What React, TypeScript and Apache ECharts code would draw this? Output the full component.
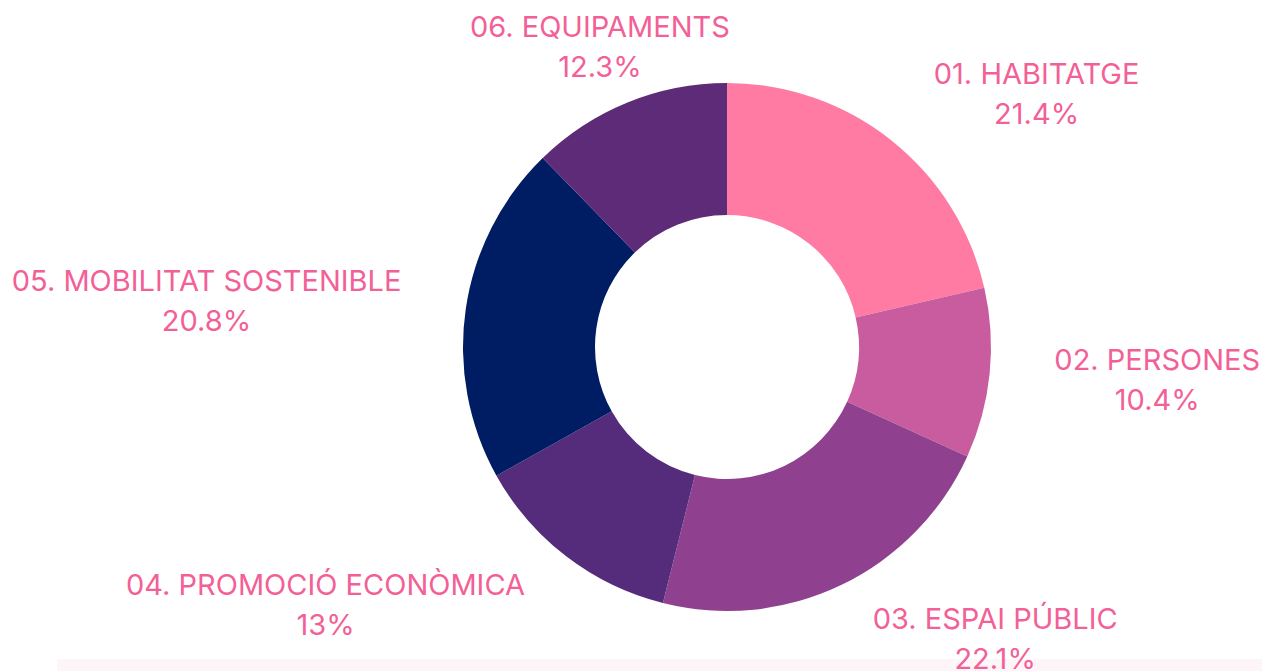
import React, { useEffect, useRef } from "react";
import * as echarts from "echarts";

const categories = [
  "01. HABITATGE",
  "02. PERSONES",
  "03. ESPAI PÚBLIC",
  "04. PROMOCIÓ ECONÒMICA",
  "05. MOBILITAT SOSTENIBLE",
  "06. EQUIPAMENTS",
];
const values = [21.4, 10.4, 22.1, 13, 20.8, 12.3];
const colors = ["#ff7ba4", "#c85c9e", "#8f418f", "#552b7c", "#001d63", "#5e2b78"];

export default function App() {
  const ref = useRef<HTMLDivElement>(null);
  useEffect(() => {
    if (!ref.current) return;
    const chart = echarts.init(ref.current, null, { renderer: "svg" });
    chart.setOption({
      animation: false,
      backgroundColor: "#ffffff",
      graphic: [
        {
          type: "rect",
          z: 0,
          shape: { x: 57, y: 659, width: 1205, height: 12 },
          style: { fill: "#fdf5f8" },
          silent: true,
        },
      ],
      series: [
        {
          type: "pie",
          z: 2,
          center: [727, 347],
          radius: [132, 264],
          startAngle: 90,
          clockwise: true,
          avoidLabelOverlap: false,
          label: {
            show: true,
            position: "outside",
            formatter: (p: any) => `${p.name}\n${p.value}%`,
            color: "#f35f97",
            fontFamily: "Inter",
            fontSize: 29,
            lineHeight: 40,
          },
          labelLine: { show: false, length: 60, length2: 0 },
          labelLayout: (p: any) => {
            if (p.dataIndex === 5) return { align: "center" };
            const w = p.labelRect.width;
            const left = p.labelRect.x + p.labelRect.width / 2 > 727;
            return { align: "center", dx: left ? w / 2 : -w / 2 };
          },
          itemStyle: { borderWidth: 0 },
          emphasis: { disabled: true },
          data: categories.map((c, i) => ({
            name: c,
            value: values[i],
            itemStyle: { color: colors[i] },
          })),
        },
      ],
    });
    return () => chart.dispose();
  }, []);
  return (
    <div
      ref={ref}
      style={{ position: "fixed", left: 0, top: 0, width: 1262, height: 671 }}
    />
  );
}
